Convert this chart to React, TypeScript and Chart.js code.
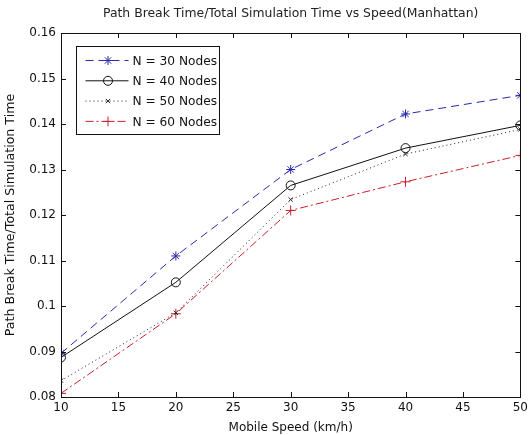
import React, { useEffect, useRef } from "react";
import { Chart, registerables } from "chart.js";
import { drawPoint } from "chart.js/helpers";

Chart.register(...registerables);

const chartTitle = "Path Break Time/Total Simulation Time vs Speed(Manhattan)";
const xTitle = "Mobile Speed (km/h)";
const yTitle = "Path Break Time/Total Simulation Time";

const speeds = [10, 20, 30, 40, 50];
const seriesLabels = ["N = 30 Nodes", "N = 40 Nodes", "N = 50 Nodes", "N = 60 Nodes"];
const n30 = [0.0896, 0.1110, 0.1300, 0.1422, 0.1463];
const n40 = [0.0887, 0.1052, 0.1265, 0.1347, 0.1397];
const n50 = [0.0836, 0.0985, 0.1234, 0.1334, 0.1388];
const n60 = [0.0808, 0.0983, 0.1210, 0.1273, 0.1331];

const xMin = 10, xMax = 50, xStep = 5;
const yMin = 0.08, yMax = 0.16, yStep = 0.01;

const FONT = "'DejaVu Sans', Arial, sans-serif";

const toPts = (vals: number[]) => vals.map((v, i) => ({ x: speeds[i], y: v }));

const titlePlugin = {
  id: "plotTitle",
  afterDraw(chart: any) {
    const { ctx, chartArea } = chart;
    ctx.save();
    ctx.fillStyle = "#222";
    ctx.font = `12.4px ${FONT}`;
    ctx.textAlign = "center";
    ctx.textBaseline = "middle";
    ctx.fillText(chartTitle, (chartArea.left + chartArea.right) / 2, chartArea.top - 19);
    ctx.restore();
  },
};

const frameTicksPlugin = {
  id: "frameTicks",
  afterDatasetsDraw(chart: any) {
    const { ctx, chartArea, scales } = chart;
    const { left, right, top, bottom } = chartArea;
    const tl = 5;
    ctx.save();
    ctx.strokeStyle = "#111";
    ctx.lineWidth = 1;
    ctx.beginPath();
    const xs = scales.x, ys = scales.y;
    xs.ticks.forEach((t: any) => {
      const px = Math.round(xs.getPixelForValue(t.value)) + 0.5;
      ctx.moveTo(px, bottom);
      ctx.lineTo(px, bottom - tl);
      ctx.moveTo(px, top);
      ctx.lineTo(px, top + tl);
    });
    ys.ticks.forEach((t: any) => {
      const py = Math.round(ys.getPixelForValue(t.value)) + 0.5;
      ctx.moveTo(left, py);
      ctx.lineTo(left + tl, py);
      ctx.moveTo(right, py);
      ctx.lineTo(right - tl, py);
    });
    ctx.stroke();
    ctx.strokeRect(Math.round(left) + 0.5, Math.round(top) + 0.5, Math.round(right - left), Math.round(bottom - top));
    ctx.restore();
  },
};

const boxLegendPlugin = {
  id: "boxLegend",
  afterDraw(chart: any) {
    const { ctx, chartArea } = chart;
    const x0 = Math.round(chartArea.left + 15) + 0.5;
    const y0 = Math.round(chartArea.top + 13) + 0.5;
    const w = 143, h = 88;
    ctx.save();
    ctx.fillStyle = "#fff";
    ctx.fillRect(x0, y0, w, h);
    ctx.strokeStyle = "#111";
    ctx.lineWidth = 1;
    ctx.strokeRect(x0, y0, w, h);
    chart.data.datasets.forEach((ds: any, i: number) => {
      const y = y0 + 14 + i * 20.3;
      ctx.save();
      ctx.strokeStyle = ds.borderColor;
      ctx.lineWidth = ds.borderWidth;
      ctx.setLineDash(ds.borderDash || []);
      ctx.beginPath();
      ctx.moveTo(x0 + 9, y);
      ctx.lineTo(x0 + 52, y);
      ctx.stroke();
      ctx.restore();
      ctx.save();
      ctx.strokeStyle = ds.pointBorderColor;
      ctx.fillStyle = ds.pointBackgroundColor;
      ctx.lineWidth = ds.pointBorderWidth;
      drawPoint(ctx, { pointStyle: ds.pointStyle, radius: ds.pointRadius, borderWidth: ds.pointBorderWidth, rotation: 0 } as any, x0 + 31.5, y);
      ctx.restore();
      ctx.fillStyle = "#111";
      ctx.font = `12.2px ${FONT}`;
      ctx.textBaseline = "middle";
      ctx.textAlign = "left";
      ctx.fillText(ds.label, x0 + 56, y + 1);
    });
    ctx.restore();
  },
};

export default function App() {
  const ref = useRef<HTMLCanvasElement | null>(null);
  useEffect(() => {
    if (!ref.current) return;
    const mk = (label: string, vals: number[], color: string, dash: number[], style: string, r: number) => ({
      label,
      data: toPts(vals),
      borderColor: color,
      backgroundColor: color,
      borderWidth: 1,
      borderDash: dash,
      pointStyle: style,
      pointRadius: r,
      pointBorderColor: color,
      pointBackgroundColor: "rgba(0,0,0,0)",
      pointBorderWidth: 1,
      tension: 0,
      fill: false,
    });
    const chart = new Chart(ref.current, {
      type: "line",
      data: {
        datasets: [
          mk(seriesLabels[0], n30, "#2a2aa8", [8, 5], "star", 4.5),
          mk(seriesLabels[1], n40, "#111111", [], "circle", 4.5),
          mk(seriesLabels[2], n50, "#222222", [1, 3], "crossRot", 3),
          mk(seriesLabels[3], n60, "#c8202c", [8, 3, 2, 3], "cross", 5),
        ] as any,
      },
      options: {
        responsive: false,
        animation: false,
        layout: { padding: { top: 33, right: 7, left: 0, bottom: 0 } },
        plugins: {
          legend: { display: false },
          tooltip: { enabled: false },
          title: { display: false },
        },
        scales: {
          x: {
            type: "linear",
            min: xMin,
            max: xMax,
            ticks: { stepSize: xStep, color: "#111", font: { family: FONT, size: 12 }, padding: 4, maxRotation: 0 },
            grid: { display: true, drawOnChartArea: false, drawTicks: false },
            border: { display: false },
            title: { display: true, text: xTitle, color: "#111", font: { family: FONT, size: 12 }, padding: { top: 0, bottom: 0 } },
            afterFit: (s: any) => { s.height = 38; },
          },
          y: {
            type: "linear",
            min: yMin,
            max: yMax,
            ticks: {
              stepSize: yStep,
              color: "#111",
              font: { family: FONT, size: 12 },
              padding: 5,
              callback: (v: any) => String(Number(Number(v).toFixed(2))),
            },
            grid: { display: true, drawOnChartArea: false, drawTicks: false },
            border: { display: false },
            title: { display: true, text: yTitle, color: "#111", font: { family: FONT, size: 12.6 }, padding: { top: 3, bottom: 0 } },
            afterFit: (s: any) => { s.width = 61; },
          },
        },
      },
      plugins: [frameTicksPlugin, boxLegendPlugin, titlePlugin],
    });
    return () => chart.destroy();
  }, []);
  return (
    <div style={{ position: "absolute", left: 0, top: 0, width: 532, height: 435, background: "#fff" }}>
      <canvas ref={ref} width={532} height={435} style={{ width: 532, height: 435, display: "block" }} />
    </div>
  );
}
